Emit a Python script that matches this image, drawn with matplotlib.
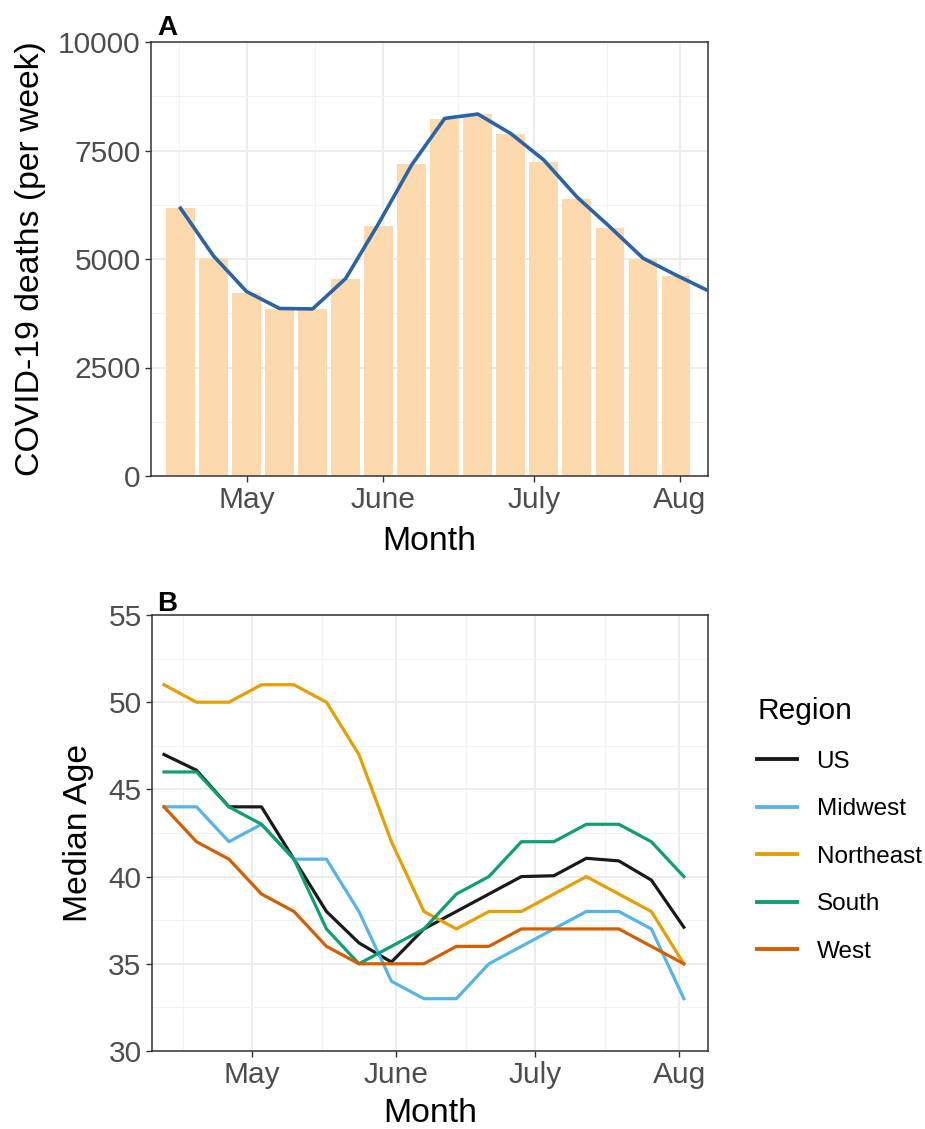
import matplotlib
matplotlib.use("Agg")
import matplotlib.pyplot as plt
import numpy as np
import pandas as pd

plt.rcParams['font.family'] = ['Liberation Sans', 'DejaVu Sans']

# ---------------- Panel A data ----------------
weeks_a = list(range(16))
deaths_bar = [6180, 5030, 4210, 3840, 3840, 4530, 5760, 7190,
              8230, 8330, 7870, 7240, 6380, 5720, 5010, 4610]
smooth_x = list(range(17))
deaths_smooth = [6170, 5070, 4250, 3860, 3850, 4550, 5820, 7170,
                 8240, 8340, 7890, 7280, 6430, 5740, 5020, 4630, 4260]
month_ticks_a = [2.01, 6.13, 10.70, 15.12]
month_labels = ["May", "June", "July", "Aug"]

# ---------------- Panel B data ----------------
dates_b = pd.date_range("2020-04-12", periods=17, freq="7D")
regions = ["US", "Midwest", "Northeast", "South", "West"]
us = [47, 46.1, 44, 44, 41, 38, 36.2, 35.1, 37, 38, 39, 40, 40.05, 41.05, 40.9, 39.8, 37.1]
midwest = [44, 44, 42, 43, 41, 41, 38, 34, 33, 33, 35, 36, 37, 38, 38, 37, 33]
northeast = [51, 50, 50, 51, 51, 50, 47, 42, 38, 37, 38, 38, 39, 40, 39, 38, 35]
south = [46, 46, 44, 43, 41, 37, 35, 36, 37, 39, 40, 42, 42, 43, 43, 42, 40]
west = [44, 42, 41, 39, 38, 36, 35, 35, 35, 36, 36, 37, 37, 37, 37, 36, 35]
region_values = [us, midwest, northeast, south, west]
region_colors = ["#1A1A1A", "#56B4E9", "#E69F00", "#109E73", "#D55E00"]
month_dates_b = pd.to_datetime(["2020-05-01", "2020-06-01", "2020-07-01", "2020-08-01"])
minor_dates_b = pd.to_datetime(["2020-04-16", "2020-05-16", "2020-06-16", "2020-07-16"])

W, H = 925, 1129
fig = plt.figure(figsize=(W / 100, H / 100), dpi=100)

TICK_FS = 21.5
TITLE_FS = 24.3
GRID_MAJ = "#EBEBEB"
GRID_MIN = "#F2F2F2"
BORDER = "#333333"
TICKLAB = "#4D4D4D"


def style_axes(ax):
    ax.set_axisbelow(True)
    for s in ax.spines.values():
        s.set_color(BORDER)
        s.set_linewidth(1.1)
    ax.tick_params(axis="both", which="major", length=4.5, width=1.0, color=BORDER,
                   labelsize=TICK_FS, labelcolor=TICKLAB, pad=3)
    ax.tick_params(axis="both", which="minor", length=0)
    ax.grid(True, which="major", color=GRID_MAJ, linewidth=1.3)
    ax.grid(True, which="minor", color=GRID_MIN, linewidth=0.8)


# ---------------- Panel A ----------------
axA = fig.add_axes([151 / W, 1 - 476 / H, (708 - 151) / W, (476 - 42) / H])
axA.bar(weeks_a, deaths_bar, width=0.87, color="#FCDAAE", zorder=2)
axA.plot(smooth_x, deaths_smooth, color="#2A63A6", linewidth=2.6, zorder=3)
axA.set_xlim(-0.893, 15.97)
axA.set_ylim(0, 10000)
axA.set_yticks([0, 2500, 5000, 7500, 10000])
axA.set_yticks([1250, 3750, 6250, 8750], minor=True)
axA.set_xticks(month_ticks_a)
axA.set_xticklabels(month_labels)
minor_a = [(month_ticks_a[i] + month_ticks_a[i + 1]) / 2 for i in range(3)]
minor_a = [month_ticks_a[0] - (minor_a[0] - month_ticks_a[0])] + minor_a
axA.set_xticks(minor_a, minor=True)
style_axes(axA)
axA.set_ylabel("COVID-19 deaths (per week)", fontsize=TITLE_FS, color="black")
axA.yaxis.set_label_coords(-0.1885, 0.5)
axA.set_xlabel("Month", fontsize=TITLE_FS, color="black")
axA.xaxis.set_label_coords(0.5, -0.116)
fig.text(157 / W, 1 - 28 / H, "A", fontsize=20, fontweight="bold", va="center", ha="left")

# ---------------- Panel B ----------------
axB = fig.add_axes([152 / W, 1 - 1051 / H, (708 - 152) / W, (1051 - 615) / H])
for name, vals, col in zip(regions, region_values, region_colors):
    axB.plot(dates_b, vals, color=col, linewidth=2.3, label=name, zorder=3)
axB.set_xlim(pd.Timestamp("2020-04-09 10:00"), pd.Timestamp("2020-08-07 05:00"))
axB.set_ylim(30, 55)
axB.set_yticks([30, 35, 40, 45, 50, 55])
axB.set_yticks([32.5, 37.5, 42.5, 47.5, 52.5], minor=True)
axB.set_xticks(month_dates_b)
axB.set_xticklabels(month_labels)
axB.set_xticks(minor_dates_b, minor=True)
style_axes(axB)
axB.set_ylabel("Median Age", fontsize=TITLE_FS, color="black")
axB.yaxis.set_label_coords(-0.104, 0.5)
axB.set_xlabel("Month", fontsize=TITLE_FS, color="black")
axB.xaxis.set_label_coords(0.5, -0.108)
fig.text(157 / W, 1 - 604 / H, "B", fontsize=20, fontweight="bold", va="center", ha="left")

leg = axB.legend(loc="upper left", bbox_to_anchor=(757 / W, 1 - 697 / H),
                 bbox_transform=fig.transFigure, frameon=False,
                 fontsize=17.5, title="Region", title_fontsize=21.5,
                 handlelength=1.65, handletextpad=0.8, labelspacing=1.05,
                 alignment="left", borderaxespad=0, borderpad=0)
for line in leg.get_lines():
    line.set_linewidth(2.8)

fig.savefig("out.png", dpi=100)
